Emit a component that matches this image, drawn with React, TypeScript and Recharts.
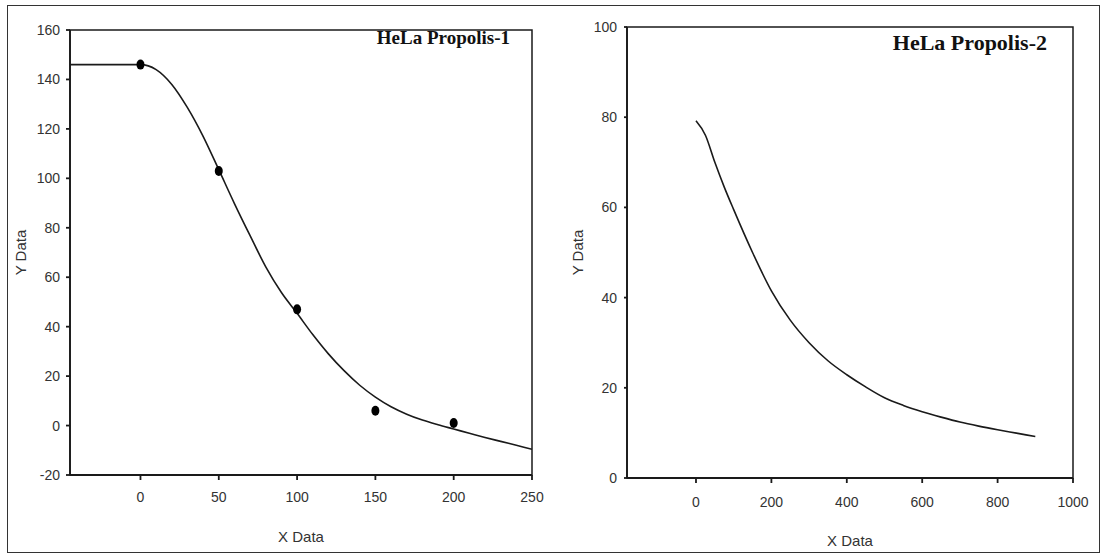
import React from 'react';
import {
  ComposedChart,
  Line,
  Scatter,
  XAxis,
  YAxis,
  ReferenceArea,
  Label,
} from 'recharts';

// HeLa Propolis-1: measured points and fitted curve
const p1Points = [
  { x: 0, y: 146 },
  { x: 50, y: 103 },
  { x: 100, y: 47 },
  { x: 150, y: 6 },
  { x: 200, y: 1 },
];
const p1CurveX = [-45, 0, 10, 20, 30, 40, 50, 60, 70, 80, 90, 100, 110, 120, 130, 140, 150, 160, 170, 180, 190, 200, 210, 220, 230, 240, 250];
const p1CurveY = [146, 146, 144, 138, 128.6, 117, 103.5, 89.8, 76.8, 64.2, 53.8, 45.4, 36.8, 29, 22.2, 16.3, 11.5, 7.6, 4.6, 2.2, 0.3, -1.4, -3.1, -4.8, -6.4, -8, -9.6];
const p1XTicks = [0, 50, 100, 150, 200, 250];
const p1YTicks = [-20, 0, 20, 40, 60, 80, 100, 120, 140, 160];

// HeLa Propolis-2: fitted curve only
const p2CurveX = [0, 25, 50, 75, 100, 150, 200, 250, 300, 350, 400, 450, 500, 550, 600, 650, 700, 750, 800, 850, 900];
const p2CurveY = [79.2, 76, 70, 64.5, 59.5, 50, 41.5, 35, 30, 26, 22.9, 20.2, 17.8, 16.1, 14.7, 13.5, 12.4, 11.5, 10.7, 9.95, 9.2];
const p2XTicks = [0, 200, 400, 600, 800, 1000];
const p2YTicks = [0, 20, 40, 60, 80, 100];

const p1Curve = p1CurveX.map((x, i) => ({ x, y: p1CurveY[i] }));
const p2Curve = p2CurveX.map((x, i) => ({ x, y: p2CurveY[i] }));

const INK = '#1a1a1a';
const tickStyle = { fontFamily: '"Liberation Sans", Arial, sans-serif', fontSize: 14, fill: '#333' };
const axisTitle = { fontFamily: '"Liberation Sans", Arial, sans-serif', fontSize: 15, fill: '#333' };

function XTitle({ viewBox, dy }: any) {
  return (
    <text x={viewBox.x + viewBox.width / 2} y={viewBox.y + dy} textAnchor="middle" style={axisTitle}>
      X Data
    </text>
  );
}

function YTitle({ viewBox, dx }: any) {
  const cx = viewBox.x + dx;
  const cy = viewBox.y + viewBox.height / 2;
  return (
    <text x={cx} y={cy} textAnchor="middle" dominantBaseline="central" transform={`rotate(-90, ${cx}, ${cy})`} style={axisTitle}>
      Y Data
    </text>
  );
}

export default function App() {
  return (
    <div style={{ position: 'absolute', left: 0, top: 0, width: 1105, height: 553, background: '#fff', overflow: 'hidden' }}>
      {/* outer frame */}
      <div style={{ position: 'absolute', left: 7, top: 5, width: 1091, height: 546, border: '1.5px solid #333' }} />

      {/* left panel */}
      <div style={{ position: 'absolute', left: 0, top: 0 }}>
        <ComposedChart width={560} height={553} margin={{ top: 30, right: 28, left: 0, bottom: 0 }}>
          <ReferenceArea x1={-45} x2={250} y1={-20} y2={160} fill="none" stroke={INK} strokeWidth={1.5} />
          <XAxis
            type="number"
            dataKey="x"
            domain={[-45, 250]}
            ticks={p1XTicks}
            allowDataOverflow
            height={78}
            tickSize={5}
            tickMargin={12}
            stroke={INK}
            strokeWidth={1.8}
            tick={tickStyle}
          >
            <Label content={(props: any) => <XTitle {...props} dy={67} />} />
          </XAxis>
          <YAxis
            type="number"
            dataKey="y"
            domain={[-20, 160]}
            ticks={p1YTicks}
            allowDataOverflow
            width={70}
            tickSize={4}
            tickMargin={6}
            stroke={INK}
            strokeWidth={1.8}
            tick={tickStyle}
          >
            <Label content={(props: any) => <YTitle {...props} dx={20} />} />
          </YAxis>
          <Line data={p1Curve} dataKey="y" type="monotone" stroke={INK} strokeWidth={1.6} dot={false} isAnimationActive={false} />
          <Scatter data={p1Points} dataKey="y" fill="#000" shape={(p: any) => <ellipse cx={p.cx} cy={p.cy} rx={4} ry={5} fill="#000" />} isAnimationActive={false} />
        </ComposedChart>
      </div>
      <div
        style={{
          position: 'absolute',
          right: 1105 - 510,
          top: 28,
          fontFamily: '"Liberation Serif", "Times New Roman", serif',
          fontWeight: 'bold',
          fontSize: 19,
          lineHeight: 1,
          color: '#111',
          whiteSpace: 'nowrap',
        }}
      >
        HeLa Propolis-1
      </div>

      {/* right panel */}
      <div style={{ position: 'absolute', left: 560, top: 0 }}>
        <ComposedChart width={545} height={553} margin={{ top: 27, right: 32, left: 0, bottom: 0 }}>
          <ReferenceArea x1={-183} x2={1000} y1={0} y2={100} fill="none" stroke={INK} strokeWidth={1.5} />
          <XAxis
            type="number"
            dataKey="x"
            domain={[-183, 1000]}
            ticks={p2XTicks}
            allowDataOverflow
            height={75}
            tickSize={5}
            tickMargin={14}
            stroke={INK}
            strokeWidth={1.8}
            tick={tickStyle}
          >
            <Label content={(props: any) => <XTitle {...props} dy={68} />} />
          </XAxis>
          <YAxis
            type="number"
            dataKey="y"
            domain={[0, 100]}
            ticks={p2YTicks}
            allowDataOverflow
            width={67}
            tickSize={3}
            tickMargin={7}
            stroke={INK}
            strokeWidth={1.8}
            tick={tickStyle}
          >
            <Label content={(props: any) => <YTitle {...props} dx={17} />} />
          </YAxis>
          <Line data={p2Curve} dataKey="y" type="monotone" stroke={INK} strokeWidth={1.6} dot={false} isAnimationActive={false} />
        </ComposedChart>
      </div>
      <div
        style={{
          position: 'absolute',
          right: 1105 - 1047,
          top: 32,
          fontFamily: '"Liberation Serif", "Times New Roman", serif',
          fontWeight: 'bold',
          fontSize: 22,
          lineHeight: 1,
          color: '#111',
          whiteSpace: 'nowrap',
        }}
      >
        HeLa Propolis-2
      </div>
    </div>
  );
}
